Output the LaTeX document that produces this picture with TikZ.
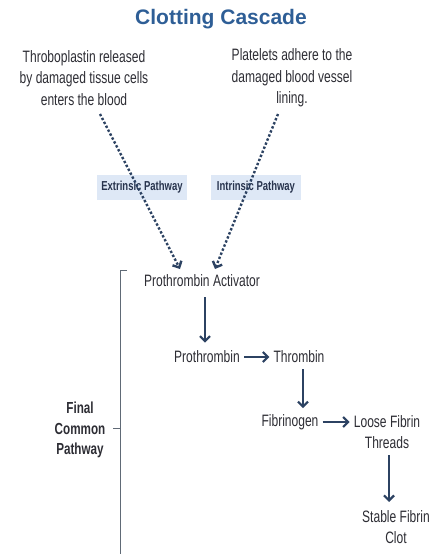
\documentclass[tikz,border=0pt]{standalone}
\usepackage{fontspec}
\setmainfont{Liberation Sans}
\newfontfamily\narrowfont[FakeStretch=0.73]{Liberation Sans}
\usetikzlibrary{arrows.meta}
\definecolor{title_blue}{RGB}{46, 94, 150}
\definecolor{arrow_blue}{RGB}{44, 66, 98}
\definecolor{light_blue}{RGB}{222, 232, 246}
\definecolor{text_grey}{RGB}{45, 45, 52}
\definecolor{tag_blue}{RGB}{40, 52, 78}
\definecolor{line_grey}{RGB}{96, 106, 118}

\begin{document}
\begin{tikzpicture}[x=1pt, y=-1pt, text=text_grey,
        every node/.style={font=\narrowfont\fontsize{16.5}{21.5}\selectfont, align=center, inner sep=2pt},
        flow/.style={draw=arrow_blue, line width=2.2pt, -{Straight Barb[length=5pt, width=10pt]}},
        dots/.style={draw=arrow_blue, line width=2.4pt, dotted, -{Straight Barb[length=5pt, width=10pt]}},
        tag/.style={fill=light_blue, minimum width=90pt, minimum height=25pt, text=tag_blue, font=\narrowfont\fontsize{13}{15}\bfseries\selectfont}]
        \useasboundingbox (0,0) rectangle (442,554);

        \node[font=\fontsize{21}{24}\bfseries\selectfont, text=title_blue] (title) at (221,19) {Clotting Cascade};

        \node (T) at (84,78) {Throboplastin released\\by damaged tissue cells\\enters the blood};
        \node (P) at (292,78) {Platelets adhere to the\\damaged blood vessel\\lining.};

        \node[tag] (E) at (142,187) {Extrinsic Pathway};
        \node[tag] (I) at (256,187) {Intrinsic Pathway};

        \node (PA) at (202,281) {Prothrombin Activator};
        \node (PT) at (207,357) {Prothrombin};
        \node (TH) at (299,357) {Thrombin};
        \node (FG) at (290,422) {Fibrinogen};
        \node (LF) at (387,432) {Loose Fibrin\\Threads};
        \node (SF) at (396,527) {Stable Fibrin\\Clot};

        \node[font=\narrowfont\fontsize{16}{20.5}\bfseries\selectfont] (F) at (80,430) {Final\\Common\\Pathway};

        \coordinate (x1) at (100,114);
        \coordinate (x2) at (180,269);
        \coordinate (i1) at (278,114);
        \coordinate (i2) at (215,269);

    \begin{scope}[every edge/.style={draw=arrow_blue}]
        \draw [dots](x1) -- (x2);
        \draw [dots](i1) -- (i2);
        \draw [flow, shorten <=8pt, shorten >=6pt](PA.south) ++(3,0) coordinate (a1) -- (a1 |- PT.north);
        \draw [flow, shorten <=2pt, shorten >=2pt](PT) -- (TH);
        \draw [flow, shorten <=4pt, shorten >=4pt](TH.south) ++(4,0) coordinate (a2) -- (a2 |- FG.north);
        \draw [flow, shorten <=2pt, shorten >=2pt](FG) -- (LF.west |- FG);
        \draw [flow, shorten <=4pt, shorten >=6pt](LF.south) ++(2,0) coordinate (a3) -- (a3 |- SF.north);
    \end{scope}

        % bracket round the common pathway
        \coordinate (b1) at (120,428);
        \draw [line_grey, line width=1pt](127,270) -- (120,270) -- (120,554);
        \draw [line_grey, line width=1pt](113,428) -- (b1);

    \end{tikzpicture}
\end{document}
